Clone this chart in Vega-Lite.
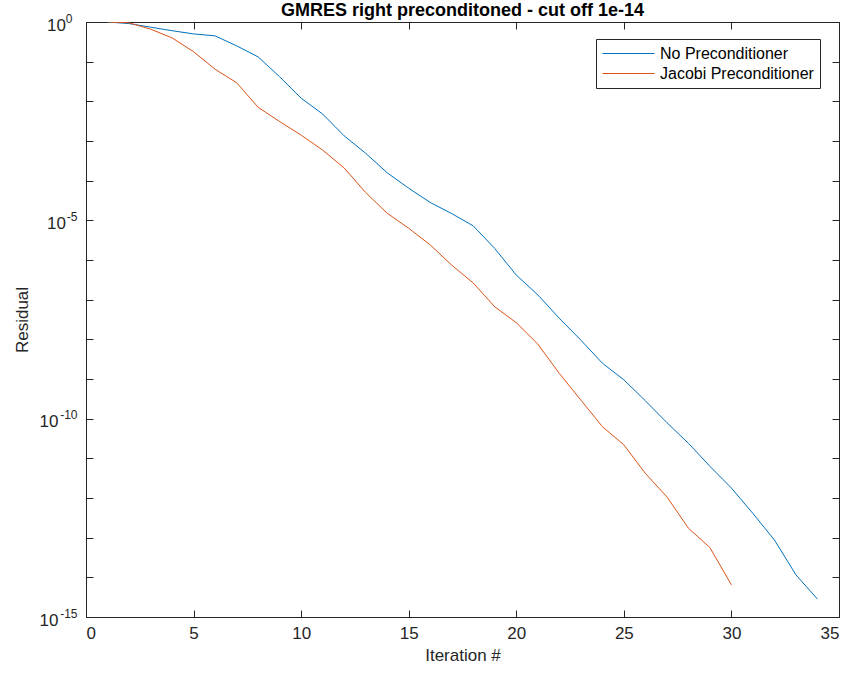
{
  "$schema": "https://vega.github.io/schema/vega-lite/v6.json",
  "autosize": "none",
  "width": 753,
  "height": 595,
  "padding": {"left": 86, "top": 22, "right": 9, "bottom": 58},
  "background": "white",
  "config": {
    "font": "Liberation Sans",
    "view": {"stroke": null},
    "axis": {
      "grid": false,
      "domainColor": "#262626",
      "tickColor": "#262626",
      "labelColor": "#262626",
      "titleColor": "#262626",
      "labelFont": "Liberation Sans",
      "titleFont": "Liberation Sans",
      "labelFontSize": 17,
      "titleFontSize": 17,
      "titleFontWeight": "normal",
      "domainWidth": 1
    }
  },
  "title": {
    "text": "GMRES right preconditoned - cut off 1e-14",
    "font": "Liberation Sans",
    "fontSize": 18,
    "fontWeight": "bold",
    "color": "#000000",
    "anchor": "middle",
    "offset": -8
  },
  "data": {
    "values": [
      {"iter": 1, "series": "No Preconditioner", "residual": 1},
      {"iter": 2, "series": "No Preconditioner", "residual": 0.912},
      {"iter": 3, "series": "No Preconditioner", "residual": 0.741},
      {"iter": 4, "series": "No Preconditioner", "residual": 0.603},
      {"iter": 5, "series": "No Preconditioner", "residual": 0.501},
      {"iter": 6, "series": "No Preconditioner", "residual": 0.447},
      {"iter": 7, "series": "No Preconditioner", "residual": 0.251},
      {"iter": 8, "series": "No Preconditioner", "residual": 0.132},
      {"iter": 9, "series": "No Preconditioner", "residual": 0.0417},
      {"iter": 10, "series": "No Preconditioner", "residual": 0.0120},
      {"iter": 11, "series": "No Preconditioner", "residual": 0.00479},
      {"iter": 12, "series": "No Preconditioner", "residual": 0.00135},
      {"iter": 13, "series": "No Preconditioner", "residual": 4.90e-4},
      {"iter": 14, "series": "No Preconditioner", "residual": 1.58e-4},
      {"iter": 15, "series": "No Preconditioner", "residual": 6.46e-5},
      {"iter": 16, "series": "No Preconditioner", "residual": 2.82e-5},
      {"iter": 17, "series": "No Preconditioner", "residual": 1.48e-5},
      {"iter": 18, "series": "No Preconditioner", "residual": 7.24e-6},
      {"iter": 19, "series": "No Preconditioner", "residual": 1.95e-6},
      {"iter": 20, "series": "No Preconditioner", "residual": 4.17e-7},
      {"iter": 21, "series": "No Preconditioner", "residual": 1.32e-7},
      {"iter": 22, "series": "No Preconditioner", "residual": 3.39e-8},
      {"iter": 23, "series": "No Preconditioner", "residual": 9.55e-9},
      {"iter": 24, "series": "No Preconditioner", "residual": 2.51e-9},
      {"iter": 25, "series": "No Preconditioner", "residual": 9.55e-10},
      {"iter": 26, "series": "No Preconditioner", "residual": 2.82e-10},
      {"iter": 27, "series": "No Preconditioner", "residual": 7.94e-11},
      {"iter": 28, "series": "No Preconditioner", "residual": 2.40e-11},
      {"iter": 29, "series": "No Preconditioner", "residual": 6.31e-12},
      {"iter": 30, "series": "No Preconditioner", "residual": 1.78e-12},
      {"iter": 31, "series": "No Preconditioner", "residual": 4.07e-13},
      {"iter": 32, "series": "No Preconditioner", "residual": 8.71e-14},
      {"iter": 33, "series": "No Preconditioner", "residual": 1.15e-14},
      {"iter": 34, "series": "No Preconditioner", "residual": 2.82e-15},
      {"iter": 1, "series": "Jacobi Preconditioner", "residual": 1},
      {"iter": 2, "series": "Jacobi Preconditioner", "residual": 0.955},
      {"iter": 3, "series": "Jacobi Preconditioner", "residual": 0.661},
      {"iter": 4, "series": "Jacobi Preconditioner", "residual": 0.398},
      {"iter": 5, "series": "Jacobi Preconditioner", "residual": 0.178},
      {"iter": 6, "series": "Jacobi Preconditioner", "residual": 0.0646},
      {"iter": 7, "series": "Jacobi Preconditioner", "residual": 0.0295},
      {"iter": 8, "series": "Jacobi Preconditioner", "residual": 0.00708},
      {"iter": 9, "series": "Jacobi Preconditioner", "residual": 0.00309},
      {"iter": 10, "series": "Jacobi Preconditioner", "residual": 0.00141},
      {"iter": 11, "series": "Jacobi Preconditioner", "residual": 5.89e-4},
      {"iter": 12, "series": "Jacobi Preconditioner", "residual": 2.09e-4},
      {"iter": 13, "series": "Jacobi Preconditioner", "residual": 5.01e-5},
      {"iter": 14, "series": "Jacobi Preconditioner", "residual": 1.51e-5},
      {"iter": 15, "series": "Jacobi Preconditioner", "residual": 6.31e-6},
      {"iter": 16, "series": "Jacobi Preconditioner", "residual": 2.40e-6},
      {"iter": 17, "series": "Jacobi Preconditioner", "residual": 7.41e-7},
      {"iter": 18, "series": "Jacobi Preconditioner", "residual": 2.63e-7},
      {"iter": 19, "series": "Jacobi Preconditioner", "residual": 6.61e-8},
      {"iter": 20, "series": "Jacobi Preconditioner", "residual": 2.63e-8},
      {"iter": 21, "series": "Jacobi Preconditioner", "residual": 7.59e-9},
      {"iter": 22, "series": "Jacobi Preconditioner", "residual": 1.38e-9},
      {"iter": 23, "series": "Jacobi Preconditioner", "residual": 2.95e-10},
      {"iter": 24, "series": "Jacobi Preconditioner", "residual": 6.31e-11},
      {"iter": 25, "series": "Jacobi Preconditioner", "residual": 2.19e-11},
      {"iter": 26, "series": "Jacobi Preconditioner", "residual": 4.17e-12},
      {"iter": 27, "series": "Jacobi Preconditioner", "residual": 1.07e-12},
      {"iter": 28, "series": "Jacobi Preconditioner", "residual": 1.74e-13},
      {"iter": 29, "series": "Jacobi Preconditioner", "residual": 5.62e-14},
      {"iter": 30, "series": "Jacobi Preconditioner", "residual": 6.46e-15}
    ]
  },
  "resolve": {"axis": {"x": "independent", "y": "independent"}},
  "layer": [
    {
      "mark": {"type": "line", "strokeWidth": 1, "clip": true},
      "encoding": {
        "x": {
          "field": "iter",
          "type": "quantitative",
          "scale": {"domain": [0, 35], "nice": false, "zero": false},
          "axis": {
            "orient": "bottom",
            "title": "Iteration #",
            "values": [0, 5, 10, 15, 20, 25, 30, 35],
            "tickSize": -7,
            "labelPadding": 15,
            "titlePadding": 6
          }
        },
        "y": {
          "field": "residual",
          "type": "quantitative",
          "scale": {"type": "log", "domain": [1e-15, 1], "nice": false},
          "axis": {
            "orient": "left",
            "title": "Residual",
            "values": [1, 1e-1, 1e-2, 1e-3, 1e-4, 1e-5, 1e-6, 1e-7, 1e-8, 1e-9, 1e-10, 1e-11, 1e-12, 1e-13, 1e-14, 1e-15],
            "labelExpr": "abs(round(log(datum.value)/LN10)) % 5 == 0 ? '10' : ''",
            "tickSize": -7,
            "labelPadding": {"condition": {"test": "datum.value > 1e-7", "value": 27.5}, "value": 35},
            "labelOffset": 3,
            "titlePadding": 8,
            "labelFlush": false,
            "labelOverlap": false
          }
        },
        "color": {
          "field": "series",
          "type": "nominal",
          "scale": {"domain": ["No Preconditioner", "Jacobi Preconditioner"], "range": ["#0072BD", "#D95319"]},
          "legend": {
            "title": null,
            "orient": "none",
            "legendX": 510,
            "legendY": 17,
            "symbolType": "stroke",
            "symbolSize": 2704,
            "symbolStrokeWidth": 1,
            "clipHeight": 17,
            "labelFontSize": 16,
            "labelFont": "Liberation Sans",
            "labelColor": "#000000",
            "labelOffset": 5,
            "rowPadding": 3,
            "strokeColor": "#262626",
            "fillColor": "white",
            "padding": 6,
            "labelLimit": 300
          }
        }
      }
    },
    {
      "mark": {"type": "point", "opacity": 0},
      "encoding": {
        "x": {
          "field": "iter",
          "type": "quantitative",
          "axis": {
            "orient": "top",
            "title": null,
            "labels": false,
            "values": [0, 5, 10, 15, 20, 25, 30, 35],
            "tickSize": -7
          }
        },
        "y": {
          "field": "residual",
          "type": "quantitative",
          "axis": {
            "orient": "right",
            "title": null,
            "labels": false,
            "values": [1, 1e-1, 1e-2, 1e-3, 1e-4, 1e-5, 1e-6, 1e-7, 1e-8, 1e-9, 1e-10, 1e-11, 1e-12, 1e-13, 1e-14, 1e-15],
            "tickSize": -7
          }
        }
      }
    },
    {
      "mark": {"type": "point", "opacity": 0},
      "encoding": {
        "y": {
          "field": "residual",
          "type": "quantitative",
          "axis": {
            "orient": "left",
            "title": null,
            "ticks": false,
            "domain": false,
            "values": [1, 1e-5, 1e-10, 1e-15],
            "labelExpr": "'' + round(log(datum.value)/LN10)",
            "labelFontSize": 12,
            "labelPadding": {"condition": {"test": "datum.value > 0.5", "value": 14}, "value": 9},
            "labelOffset": -4,
            "labelFlush": false,
            "labelOverlap": false
          }
        }
      }
    }
  ]
}
